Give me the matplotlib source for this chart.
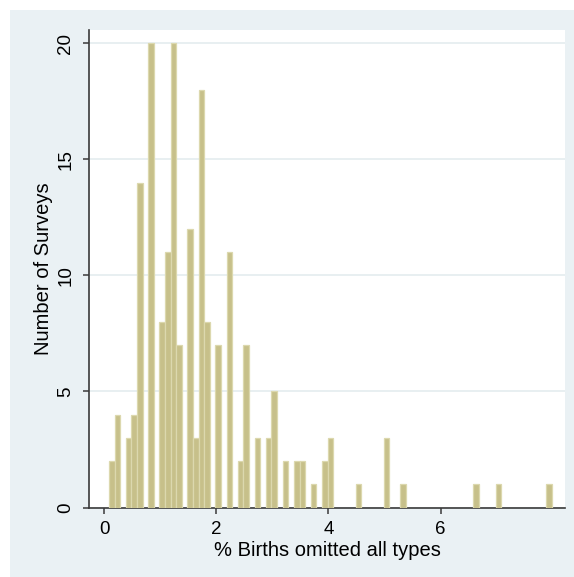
import numpy as np
import matplotlib
matplotlib.use("Agg")
import matplotlib.pyplot as plt
from matplotlib.patches import Rectangle

# histogram of % births omitted, bins of width 0.1 (left edges)
bin_width = 0.1
bin_start = 0.085
bin_index = [0, 1, 3, 4, 5, 7, 9, 10, 11, 12, 14, 15, 16, 17, 19, 21, 23, 24,
             26, 28, 29, 31, 33, 34, 36, 38, 39, 44, 49, 52, 65, 69, 78]
counts = [2, 4, 3, 4, 14, 20, 8, 11, 20, 7, 12, 3, 18, 8, 7, 11, 2, 7,
          3, 3, 5, 2, 2, 2, 1, 2, 3, 1, 3, 1, 1, 1, 1]
xticks = [0, 2, 4, 6]
yticks = [0, 5, 10, 15, 20]

plt.rcParams['font.family'] = ['Liberation Sans', 'DejaVu Sans']

W, H = 574, 577
fig = plt.figure(figsize=(W / 100, H / 100), dpi=100)
fig.patch.set_facecolor('white')

# stata-like graph region, behind the axes
bg = Rectangle((10 / W, 0), 564 / W, 567 / H, transform=fig.transFigure,
               facecolor='#eaf1f4', edgecolor='none', zorder=-10)
fig.add_artist(bg)

ax = fig.add_axes([89 / W, (H - 507.5) / H, (565 - 89) / W, (507.5 - 30) / H])
ax.set_zorder(1)
ax.set_facecolor('white')

lefts = bin_start + bin_width * np.array(bin_index)
ax.bar(lefts, counts, width=bin_width, align='edge', color='#c7c08a',
       edgecolor='#dcd8ae', linewidth=0.9, zorder=3)

ax.set_xlim(-0.27, 8.22)
ax.set_ylim(0, 20.57)
ax.set_xticks(xticks)
ax.set_yticks(yticks)
ax.grid(axis='y', color='#e4ecef', linewidth=1.2, zorder=0)

for s in ['top', 'right']:
    ax.spines[s].set_visible(False)
for s in ['left', 'bottom']:
    ax.spines[s].set_color('#3a3a3a')
    ax.spines[s].set_linewidth(1.2)

ax.tick_params(axis='both', length=4.5, width=1.1, color='#3a3a3a', labelsize=13.5)
ax.tick_params(axis='x', pad=5.5)
ax.tick_params(axis='y', pad=6)
plt.setp(ax.get_yticklabels(), rotation=90, va='center')

ax.set_xlabel('% Births omitted all types', fontsize=14.5, labelpad=2)
ax.set_ylabel('Number of Surveys', fontsize=14.5, labelpad=3)

fig.savefig('out.png', dpi=100)
